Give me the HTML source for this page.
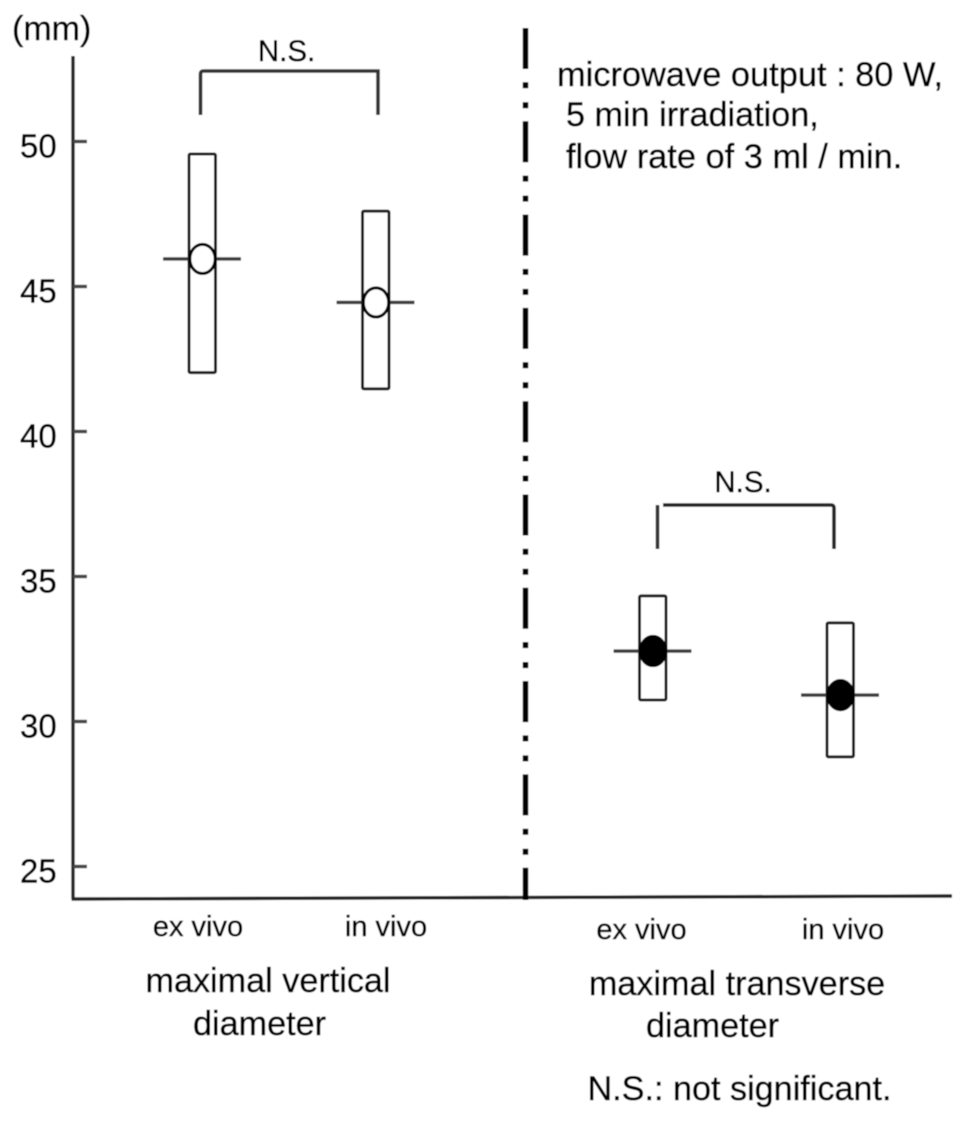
<!DOCTYPE html>
<html lang="en">
<head>
<meta charset="utf-8">
<title>Maximal diameter chart</title>
<style>
html,body{margin:0;padding:0;background:#fff;}
svg{display:block;}
text{font-family:"Liberation Sans",sans-serif;fill:#000;stroke:#000;stroke-width:0.45px;}
</style>
</head>
<body>
<svg id="chart" xmlns="http://www.w3.org/2000/svg" width="969" height="1122" viewBox="0 0 969 1122">
  <defs>
    <filter id="soften" x="0" y="0" width="100%" height="100%"><feGaussianBlur stdDeviation="0.55"/></filter>
  </defs>
  <g filter="url(#soften)">
    <rect x="0" y="0" width="969" height="1122" fill="#fff"/>
    <g id="static">
      <text x="12" y="40" font-size="34">(mm)</text>
      <line x1="73" y1="56" x2="73" y2="899" stroke="#222" stroke-width="3.4"/>
      <line x1="71.5" y1="899" x2="952" y2="896" stroke="#222" stroke-width="3.4"/>
      <line x1="525.5" y1="28" x2="525.5" y2="900" stroke="#000" stroke-width="5.5" stroke-dasharray="41 13.3 6 14 6 13"/>
      <text x="557" y="86" font-size="34.4">microwave output : 80 W,</text>
      <text x="566" y="126" font-size="34.2">5 min irradiation,</text>
      <text x="566" y="168" font-size="34.4">flow rate of 3 ml / min.</text>
      <text x="268" y="992" font-size="34.2" text-anchor="middle">maximal vertical</text>
      <text x="259.5" y="1035" font-size="34.2" text-anchor="middle">diameter</text>
      <text x="737" y="995" font-size="34.2" text-anchor="middle">maximal transverse</text>
      <text x="712.5" y="1037" font-size="34.2" text-anchor="middle">diameter</text>
      <text x="739.5" y="1100" font-size="34.2" text-anchor="middle">N.S.: not significant.</text>
      <path d="M200.5 115V74Q200.5 71 203.5 71H378V115" fill="none" stroke="#333" stroke-width="3.6"/>
      <text x="286.5" y="61" font-size="29.5" text-anchor="middle">N.S.</text>
      <line x1="657.5" y1="505" x2="657.5" y2="549" stroke="#333" stroke-width="3.6"/>
      <path d="M663 505H831Q834 505 834 508V549" fill="none" stroke="#222" stroke-width="3.6"/>
      <text x="743" y="492" font-size="29.5" text-anchor="middle">N.S.</text>
    </g>
    <g id="marks"></g>
  </g>
</svg>
<script>
var tickLabels = [50, 45, 40, 35, 30, 25];
var categories = ["ex vivo", "in vivo", "ex vivo", "in vivo"];
var upperValues = [49.57, 47.6, 34.33, 33.4];
var lowerValues = [42.03, 41.47, 30.74, 28.78];
var meanValues = [45.95, 44.45, 32.43, 30.91];
var markerFills = ["#fff", "#fff", "#000", "#000"];

function yScale(v) { return 141.5 + (50 - v) * 29; }
function xScale(i) { return i < 2 ? 202 + 173.5 * i : 652.5 + 187.5 * (i - 2); }
function labelX(i) { return i < 2 ? 198 + 188 * i : 641.5 + 201.5 * (i - 2); }
function labelY(i) { return i < 2 ? 936 : 939; }

var svgNS = "http://www.w3.org/2000/svg";
var marks = document.getElementById("marks");
function make(tag, attrs, text) {
  var el = document.createElementNS(svgNS, tag);
  for (var k in attrs) { el.setAttribute(k, attrs[k]); }
  if (text !== undefined) { el.textContent = text; }
  marks.appendChild(el);
  return el;
}

tickLabels.forEach(function (t) {
  var y = yScale(t);
  var mark = make("line", { x1: 73, x2: 87, y1: y, y2: y, stroke: "#444", "stroke-width": 3.4 });
  
  
  var el = make("text", { x: 20, y: y + 16, "font-size": 33 }, String(t));
  
  
});

categories.forEach(function (name, i) {
  var x = xScale(i);
  var top = yScale(upperValues[i]);
  var bottom = yScale(lowerValues[i]);
  var mid = yScale(meanValues[i]);

  var box = make("rect", { x: x - 13, y: top, width: 26.5, height: bottom - top, rx: 1.5, fill: "#fff", stroke: "#1a1a1a", "stroke-width": 3 });
  
  

  var line = make("line", { x1: x - 39, x2: x + 39, y1: mid, y2: mid, stroke: "#3a3a3a", "stroke-width": 3.4 });
  
  

  var dot = make("ellipse", { cx: x + 0.5, cy: mid, rx: 12.7, ry: 14.6, fill: markerFills[i], stroke: "#000", "stroke-width": 3 });
  
  

  var label = make("text", { x: labelX(i), y: labelY(i), "font-size": 29, "text-anchor": "middle" }, name);
  
  
});
</script>
</body>
</html>
